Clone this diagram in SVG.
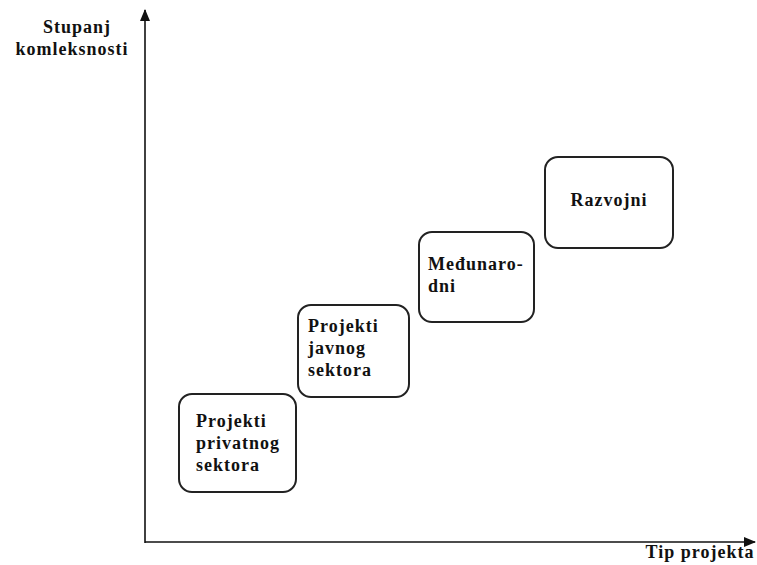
<svg xmlns="http://www.w3.org/2000/svg" width="757" height="565" viewBox="0 0 757 565">
<style>
.t{font-family:"Liberation Serif","Times New Roman",serif;font-weight:bold;font-size:18px;letter-spacing:1px;fill:#111}
.box{fill:#fff;stroke:#222;stroke-width:2}
.ax{stroke:#111;stroke-width:1.6;fill:none}
</style>
<defs>
<marker id="ah" viewBox="0 0 12 10" refX="11" refY="5" markerWidth="12" markerHeight="10" markerUnits="userSpaceOnUse" orient="auto">
<path d="M0,0 L12,5 L0,10 Z" fill="#111"/>
</marker>
</defs>
<rect width="757" height="565" fill="#fff"/>
<g id="connectors">
<line class="ax" x1="145" y1="543" x2="145" y2="10" marker-end="url(#ah)"/>
<line class="ax" x1="145" y1="542" x2="755" y2="542" marker-end="url(#ah)"/>
</g>
<g id="ylabel">
<text class="t" x="77" y="33" text-anchor="middle">Stupanj</text>
<text class="t" x="72" y="55" text-anchor="middle">komleksnosti</text>
</g>
<g id="xlabel">
<text class="t" x="700" y="558" text-anchor="middle">Tip projekta</text>
</g>
<g id="n1">
<rect class="box" x="179" y="394" width="117" height="98" rx="13"/>
<text class="t" x="196" y="427">Projekti</text>
<text class="t" x="196" y="449">privatnog</text>
<text class="t" x="196" y="471">sektora</text>
</g>
<g id="n2">
<rect class="box" x="298" y="305" width="111" height="92" rx="13"/>
<text class="t" x="308" y="332">Projekti</text>
<text class="t" x="308" y="354">javnog</text>
<text class="t" x="308" y="376">sektora</text>
</g>
<g id="n3">
<rect class="box" x="419" y="232" width="115" height="90" rx="13"/>
<text class="t" x="428" y="270">Međunaro-</text>
<text class="t" x="428" y="292">dni</text>
</g>
<g id="n4">
<rect class="box" x="545" y="157" width="128" height="91" rx="13"/>
<text class="t" x="609" y="206" text-anchor="middle">Razvojni</text>
</g>
</svg>
